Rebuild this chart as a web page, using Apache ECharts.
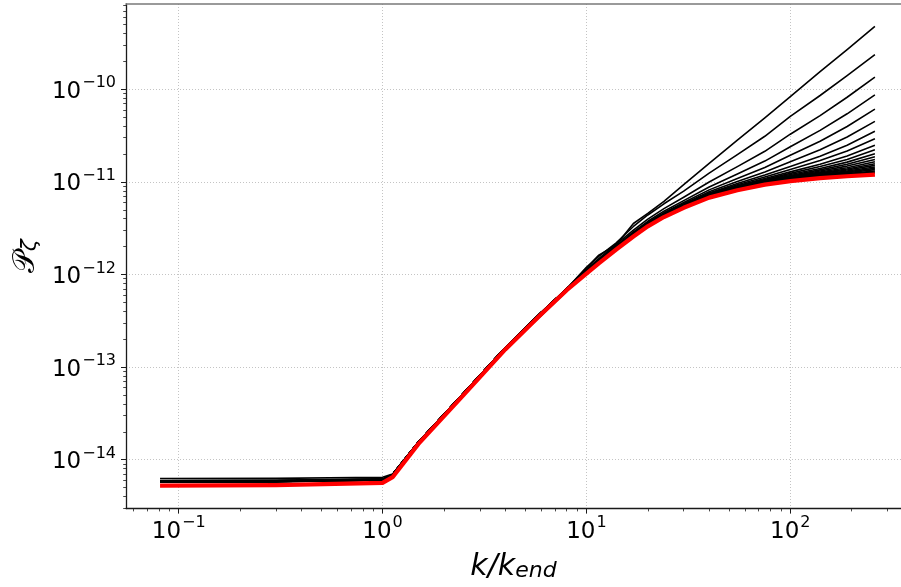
<!DOCTYPE html>
<html><head><meta charset="utf-8">
<script src="https://cdn.jsdelivr.net/npm/echarts@6/dist/echarts.min.js"></script>
<style>html,body{margin:0;padding:0;background:#fff}#c{width:901px;height:587px}</style>
</head><body><div id="c"></div>
<script>
// k / k_end sample points (shared by every curve)
const kValues = [0.081,0.3,1.0,1.12,1.5,2.5,4,6,8,10,11.5,14,17,20,24,30,40,55,75,100,140,190,260];
// red (thick) curve
const pRed = [5.25e-15,5.31e-15,5.62e-15,6.46e-15,1.48e-14,5.01e-14,1.55e-13,3.72e-13,6.76e-13,1.02e-12,1.32e-12,1.86e-12,2.57e-12,3.31e-12,4.17e-12,5.25e-12,6.76e-12,8.13e-12,9.33e-12,1.02e-11,1.10e-11,1.15e-11,1.20e-11];
// black curves, from the highest to the lowest at large k
const pBlack1  = [6.25e-15,6.28e-15,6.45e-15,7.0e-15,1.56e-14,5.25e-14,1.62e-13,3.9e-13,7.05e-13,1.175e-12,1.62e-12,2.09e-12,3.55e-12,4.57e-12,6.17e-12,9.33e-12,1.585e-11,2.82e-11,4.9e-11,8.32e-11,1.549e-10,2.69e-10,4.79e-10];
const pBlack2  = [5.95e-15,5.98e-15,6.19e-15,6.9e-15,1.55e-14,5.25e-14,1.62e-13,3.9e-13,7.0e-13,1.195e-12,1.57e-12,2.2e-12,3.3e-12,4.39e-12,5.8e-12,7.94e-12,1.243e-11,1.971e-11,3.108e-11,5.11e-11,8.569e-11,1.402e-10,2.375e-10];
const pBlack3  = [5.92e-15,5.95e-15,6.16e-15,6.9e-15,1.55e-14,5.2e-14,1.58e-13,3.6e-13,6.6e-13,1.134e-12,1.481e-12,2.127e-12,3.014e-12,3.957e-12,5.14e-12,6.813e-12,9.98e-12,1.461e-11,2.139e-11,3.274e-11,5.203e-11,8.207e-11,1.3548e-10];
const pBlack4  = [5.90e-15,5.93e-15,6.14e-15,6.9e-15,1.55e-14,5.25e-14,1.62e-13,3.88e-13,7.0e-13,1.105e-12,1.437e-12,2.049e-12,2.878e-12,3.753e-12,4.824e-12,6.278e-12,8.816e-12,1.218e-11,1.677e-11,2.399e-11,3.599e-11,5.437e-11,8.688e-11];
const pBlack5  = [5.88e-15,5.91e-15,6.14e-15,6.9e-15,1.55e-14,5.25e-14,1.62e-13,3.88e-13,7.0e-13,1.089e-12,1.414e-12,2.008e-12,2.806e-12,3.644e-12,4.656e-12,5.995e-12,8.196e-12,1.089e-11,1.432e-11,1.935e-11,2.748e-11,3.966e-11,6.108e-11];
const pBlack6  = [5.86e-15,5.89e-15,6.12e-15,6.9e-15,1.55e-14,5.25e-14,1.62e-13,3.88e-13,7.0e-13,1.08e-12,1.399e-12,1.982e-12,2.761e-12,3.577e-12,4.552e-12,5.819e-12,7.812e-12,1.009e-11,1.28e-11,1.647e-11,2.22e-11,3.054e-11,4.508e-11];
const pBlack7  = [5.85e-15,5.88e-15,6.11e-15,6.9e-15,1.55e-14,5.25e-14,1.62e-13,3.88e-13,7.0e-13,1.074e-12,1.39e-12,1.966e-12,2.734e-12,3.535e-12,4.488e-12,5.71e-12,7.575e-12,9.595e-12,1.186e-11,1.469e-11,1.893e-11,2.49e-11,3.518e-11];
const pBlack8  = [5.84e-15,5.87e-15,6.10e-15,6.9e-15,1.55e-14,5.25e-14,1.62e-13,3.88e-13,7.0e-13,1.07e-12,1.385e-12,1.957e-12,2.717e-12,3.511e-12,4.449e-12,5.645e-12,7.433e-12,9.3e-12,1.13e-11,1.362e-11,1.698e-11,2.154e-11,2.928e-11];
const pBlack9  = [5.83e-15,5.86e-15,6.09e-15,6.9e-15,1.55e-14,5.25e-14,1.62e-13,3.88e-13,7.0e-13,1.067e-12,1.381e-12,1.95e-12,2.705e-12,3.492e-12,4.421e-12,5.596e-12,7.328e-12,9.08e-12,1.088e-11,1.283e-11,1.553e-11,1.903e-11,2.488e-11];
const pBlack10 = [5.82e-15,5.85e-15,6.08e-15,6.9e-15,1.55e-14,5.25e-14,1.62e-13,3.88e-13,7.0e-13,1.066e-12,1.379e-12,1.946e-12,2.697e-12,3.481e-12,4.403e-12,5.567e-12,7.263e-12,8.945e-12,1.062e-11,1.235e-11,1.464e-11,1.749e-11,2.218e-11];
const pBlack11 = [5.81e-15,5.84e-15,6.07e-15,6.9e-15,1.55e-14,5.25e-14,1.62e-13,3.88e-13,7.0e-13,1.065e-12,1.377e-12,1.942e-12,2.692e-12,3.472e-12,4.39e-12,5.545e-12,7.215e-12,8.845e-12,1.043e-11,1.199e-11,1.398e-11,1.635e-11,2.018e-11];
const pBlack12 = [5.80e-15,5.83e-15,6.06e-15,6.9e-15,1.55e-14,5.25e-14,1.62e-13,3.88e-13,7.0e-13,1.064e-12,1.376e-12,1.94e-12,2.687e-12,3.466e-12,4.38e-12,5.528e-12,7.179e-12,8.77e-12,1.029e-11,1.172e-11,1.349e-11,1.549e-11,1.868e-11];
const pBlack13 = [5.80e-15,5.83e-15,6.06e-15,6.9e-15,1.55e-14,5.25e-14,1.62e-13,3.88e-13,7.0e-13,1.063e-12,1.375e-12,1.938e-12,2.684e-12,3.461e-12,4.373e-12,5.515e-12,7.15e-12,8.71e-12,1.018e-11,1.15e-11,1.309e-11,1.481e-11,1.748e-11];
const pBlack14 = [5.79e-15,5.82e-15,6.05e-15,6.9e-15,1.55e-14,5.25e-14,1.62e-13,3.88e-13,7.0e-13,1.062e-12,1.374e-12,1.936e-12,2.681e-12,3.457e-12,4.366e-12,5.504e-12,7.126e-12,8.66e-12,1.008e-11,1.132e-11,1.276e-11,1.424e-11,1.648e-11];
const pBlack15 = [5.79e-15,5.82e-15,6.05e-15,6.9e-15,1.55e-14,5.25e-14,1.62e-13,3.88e-13,7.0e-13,1.062e-12,1.373e-12,1.935e-12,2.679e-12,3.453e-12,4.361e-12,5.495e-12,7.107e-12,8.62e-12,1.0e-11,1.118e-11,1.25e-11,1.378e-11,1.568e-11];
const pBlack16 = [5.78e-15,5.81e-15,6.04e-15,6.9e-15,1.55e-14,5.25e-14,1.62e-13,3.88e-13,7.0e-13,1.062e-12,1.372e-12,1.934e-12,2.677e-12,3.451e-12,4.357e-12,5.489e-12,7.092e-12,8.59e-12,9.947e-12,1.107e-11,1.23e-11,1.344e-11,1.508e-11];
const pBlack17 = [5.78e-15,5.81e-15,6.04e-15,6.9e-15,1.55e-14,5.25e-14,1.62e-13,3.88e-13,7.0e-13,1.061e-12,1.372e-12,1.933e-12,2.676e-12,3.448e-12,4.353e-12,5.482e-12,7.078e-12,8.56e-12,9.89e-12,1.096e-11,1.21e-11,1.31e-11,1.448e-11];
const pBlack18 = [5.77e-15,5.80e-15,6.03e-15,6.9e-15,1.55e-14,5.25e-14,1.62e-13,3.88e-13,7.0e-13,1.061e-12,1.371e-12,1.932e-12,2.674e-12,3.446e-12,4.35e-12,5.477e-12,7.066e-12,8.535e-12,9.843e-12,1.087e-11,1.194e-11,1.282e-11,1.398e-11];
const pBlack19 = [5.77e-15,5.80e-15,6.03e-15,6.9e-15,1.55e-14,5.25e-14,1.62e-13,3.88e-13,7.0e-13,1.061e-12,1.371e-12,1.932e-12,2.673e-12,3.445e-12,4.347e-12,5.472e-12,7.056e-12,8.514e-12,9.8e-12,1.079e-11,1.179e-11,1.257e-11,1.355e-11];
const pBlack20 = [5.76e-15,5.79e-15,6.02e-15,6.9e-15,1.55e-14,5.25e-14,1.62e-13,3.88e-13,7.0e-13,1.06e-12,1.371e-12,1.931e-12,2.672e-12,3.443e-12,4.344e-12,5.467e-12,7.045e-12,8.491e-12,9.759e-12,1.071e-11,1.164e-11,1.231e-11,1.31e-11];
const pBlack21 = [5.76e-15,5.79e-15,6.02e-15,6.9e-15,1.55e-14,5.25e-14,1.62e-13,3.88e-13,7.0e-13,1.06e-12,1.37e-12,1.931e-12,2.671e-12,3.441e-12,4.342e-12,5.464e-12,7.038e-12,8.476e-12,9.73e-12,1.066e-11,1.155e-11,1.214e-11,1.28e-11];
const pBlack22 = [5.75e-15,5.78e-15,6.01e-15,6.9e-15,1.55e-14,5.25e-14,1.62e-13,3.88e-13,7.0e-13,1.06e-12,1.37e-12,1.93e-12,2.67e-12,3.44e-12,4.34e-12,5.46e-12,7.03e-12,8.46e-12,9.7e-12,1.06e-11,1.144e-11,1.196e-11,1.248e-11];
const blackCurves = [pBlack1,pBlack2,pBlack3,pBlack4,pBlack5,pBlack6,pBlack7,pBlack8,pBlack9,pBlack10,pBlack11,pBlack12,pBlack13,pBlack14,pBlack15,pBlack16,pBlack17,pBlack18,pBlack19,pBlack20,pBlack21,pBlack22];

// tick labels (decade exponents)
const xTickExps = [-1, 0, 1, 2];
const yTickExps = [-14, -13, -12, -11, -10];
const xLabel = ['k/k', 'end'];
const yLabel = ['\u{1D4AB}', '\u03B6'];

// axis extents (log10 units)
const xMin = -1.2585, xMax = 2.543;
const yMin = -14.529, yMax = -9.0786;

function minorTicks(lo, hi) {
  const out = [];
  for (let n = Math.floor(lo) - 1; n <= Math.ceil(hi); n++) {
    for (let m = 2; m <= 9; m++) {
      const v = n + Math.log10(m);
      if (v > lo && v < hi) out.push(v);
    }
  }
  return out;
}
const xMinor = minorTicks(xMin, xMax);
const yMinor = minorTicks(yMin, yMax);

function expLabel(v) {
  const e = Math.round(v);
  return '{b|10}{s|' + (e < 0 ? '\u2212' + (-e) : String(e)) + '}';
}
const FONT = 'DejaVu Sans';
const labelRich = {
  b: { fontSize: 23, fontFamily: FONT, color: '#000', lineHeight: 28, verticalAlign: 'bottom' },
  s: { fontSize: 16, fontFamily: FONT, color: '#000', lineHeight: 20, verticalAlign: 'top', padding: [0, 0, 0, 1] }
};
const gridLine = { show: true, lineStyle: { color: '#c4c4c4', width: 1, type: [1, 2] } };

const chart = echarts.init(document.getElementById('c'), null, { renderer: 'canvas' });

const toPts = arr => kValues.map((k, i) => [Math.log10(k), Math.log10(arr[i])]);
const series = [];
blackCurves.forEach((arr, i) => {
  series.push({
    type: 'line', name: 'black' + (i + 1), data: toPts(arr), showSymbol: false, silent: true,
    smooth: false,
    lineStyle: { color: '#000', width: 1.6, join: 'round' }, z: 3
  });
});
series.push({
  type: 'line', name: 'red', data: toPts(pRed), showSymbol: false, silent: true,
  smooth: false,
  lineStyle: { color: '#ff0000', width: 4.2, join: 'round' }, z: 4
});

chart.setOption({
  animation: false,
  backgroundColor: '#fff',
  grid: { left: 126, right: 0, top: 4, bottom: 74.3, containLabel: false },
  xAxis: [
    {
      type: 'value', min: xMin, max: xMax, position: 'bottom',
      axisLine: { show: true, onZero: false, lineStyle: { color: '#1a1a1a', width: 1.3 } },
      axisTick: { show: true, customValues: xTickExps, length: 5, lineStyle: { color: '#1a1a1a', width: 1 } },
      axisLabel: { show: true, customValues: xTickExps, margin: 6.5, formatter: expLabel, rich: labelRich },
      splitLine: gridLine,
      name: '{k|' + xLabel[0] + '}{e|' + xLabel[1] + '}', nameLocation: 'middle', nameGap: 33.4,
      nameTextStyle: { rich: {
        k: { fontSize: 30, fontFamily: FONT, fontStyle: 'italic', color: '#000', lineHeight: 40, verticalAlign: 'bottom' },
        e: { fontSize: 22, fontFamily: FONT, fontStyle: 'italic', color: '#000', lineHeight: 22, verticalAlign: 'bottom' }
      } }
    },
    {
      type: 'value', min: xMin, max: xMax, position: 'bottom',
      axisLine: { show: false, onZero: false },
      axisTick: { show: true, customValues: xMinor, length: 2.8, lineStyle: { color: '#1a1a1a', width: 0.8 } },
      axisLabel: { show: false }, splitLine: { show: false }
    },
    {
      type: 'value', min: xMin, max: xMax, position: 'top',
      axisLine: { show: true, onZero: false, lineStyle: { color: '#7a7a7a', width: 1.6 } },
      axisTick: { show: false }, axisLabel: { show: false }, splitLine: { show: false }
    }
  ],
  yAxis: [
    {
      type: 'value', min: yMin, max: yMax, position: 'left',
      axisLine: { show: true, onZero: false, lineStyle: { color: '#1a1a1a', width: 1.3 } },
      axisTick: { show: true, customValues: yTickExps, length: 5, lineStyle: { color: '#1a1a1a', width: 1 } },
      axisLabel: { show: true, customValues: yTickExps, margin: 10, formatter: expLabel, rich: labelRich },
      splitLine: gridLine,
      name: '{p|' + yLabel[0] + '}{z|' + yLabel[1] + '}', nameLocation: 'middle', nameGap: 82, nameRotate: 90,
      nameTextStyle: { rich: {
        p: { fontSize: 30, fontFamily: FONT, color: '#000', lineHeight: 40, verticalAlign: 'bottom' },
        z: { fontSize: 22, fontFamily: FONT, fontStyle: 'italic', color: '#000', lineHeight: 22, verticalAlign: 'bottom' }
      } }
    },
    {
      type: 'value', min: yMin, max: yMax, position: 'left',
      axisLine: { show: false, onZero: false },
      axisTick: { show: true, customValues: yMinor, length: 2.8, lineStyle: { color: '#1a1a1a', width: 0.8 } },
      axisLabel: { show: false }, splitLine: { show: false }
    }
  ],
  series: series
});
</script>
</body></html>
